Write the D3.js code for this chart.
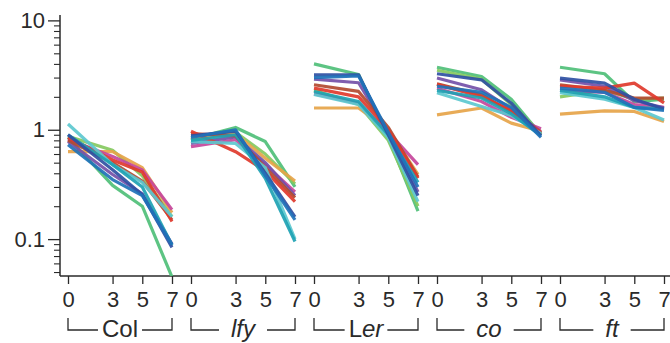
<!DOCTYPE html>
<html>
<head>
<meta charset="utf-8">
<script src="https://cdn.jsdelivr.net/npm/d3@7"></script>
<style>
  html, body { margin: 0; padding: 0; background: #fff; }
  svg { display: block; font-family: "Liberation Sans", Arial, Helvetica, sans-serif; }
</style>
</head>
<body>
<svg id="chart" width="670" height="343"></svg>
<script>
// Sampled days after transfer
const days = [0, 3, 5, 7];

// Genotype panels (label parts: [text, italic])
const genotypes = ["Col", "lfy", "Ler", "co", "ft"];
const genotypeLabels = [
  [["Col", false]],
  [["lfy", true]],
  [["L", false], ["er", true]],
  [["co", true]],
  [["ft", true]]
];

// Series (one per gene), drawing order bottom -> top
const seriesNames = ["s1", "s2", "s3", "s4", "s5", "s6", "s7", "s8", "s9", "s10", "s11"];
const seriesColors = ["#4fbf78", "#86c95f", "#e6a449", "#c6469c", "#7450a8", "#b24a30",
                      "#e03a2c", "#5cc8cf", "#1ea2b3", "#2f50a3", "#1f72b8"];

// Relative expression per genotype, per series: values at days 0, 3, 5, 7
const colValues = [
  [0.85, 0.31, 0.20, 0.045],
  [0.87, 0.65, 0.38, 0.16],
  [0.63, 0.63, 0.45, 0.175],
  [0.82, 0.57, 0.43, 0.186],
  [0.78, 0.39, 0.26, 0.09],
  [0.80, 0.50, 0.34, 0.15],
  [0.85, 0.53, 0.41, 0.145],
  [1.13, 0.48, 0.33, 0.16],
  [0.90, 0.48, 0.30, 0.088],
  [0.90, 0.43, 0.255, 0.084],
  [0.73, 0.35, 0.25, 0.089]
];
const lfyValues = [
  [0.82, 1.05, 0.78, 0.30],
  [0.80, 0.95, 0.60, 0.32],
  [0.85, 0.92, 0.55, 0.34],
  [0.70, 0.81, 0.48, 0.27],
  [0.75, 0.86, 0.50, 0.25],
  [0.92, 0.88, 0.45, 0.24],
  [0.97, 0.63, 0.42, 0.22],
  [0.78, 0.75, 0.45, 0.10],
  [0.80, 0.90, 0.36, 0.095],
  [0.88, 0.97, 0.40, 0.16],
  [0.85, 1.00, 0.38, 0.15]
];
const lerValues = [
  [4.00, 3.20, 0.85, 0.18],
  [2.30, 1.70, 0.80, 0.20],
  [1.58, 1.58, 1.00, 0.39],
  [2.13, 1.75, 0.95, 0.48],
  [2.90, 2.69, 0.95, 0.27],
  [2.58, 2.24, 1.05, 0.37],
  [2.40, 2.00, 1.00, 0.36],
  [2.10, 1.70, 0.85, 0.22],
  [2.24, 1.81, 0.90, 0.33],
  [3.18, 3.18, 0.90, 0.25],
  [3.00, 3.10, 0.95, 0.30]
];
const coValues = [
  [3.73, 3.07, 1.90, 0.90],
  [3.50, 2.90, 1.70, 0.93],
  [1.37, 1.58, 1.15, 0.97],
  [2.40, 1.81, 1.30, 1.02],
  [2.97, 2.32, 1.55, 0.95],
  [2.63, 2.09, 1.45, 0.92],
  [2.60, 2.00, 1.50, 0.95],
  [2.18, 1.63, 1.35, 0.92],
  [2.29, 1.95, 1.40, 0.88],
  [3.25, 2.86, 1.75, 0.88],
  [2.50, 2.20, 1.60, 0.85]
];
const ftValues = [
  [3.73, 3.25, 1.80, 1.90],
  [2.00, 2.30, 1.90, 1.95],
  [1.39, 1.49, 1.47, 1.19],
  [2.30, 2.20, 1.70, 1.60],
  [2.85, 2.50, 1.85, 1.59],
  [2.58, 2.30, 1.95, 1.95],
  [2.50, 2.40, 2.67, 1.76],
  [2.18, 1.90, 1.60, 1.23],
  [2.29, 2.00, 1.60, 1.55],
  [2.97, 2.67, 1.90, 1.55],
  [2.40, 2.20, 1.60, 1.50]
];
const panelValues = [colValues, lfyValues, lerValues, coValues, ftValues];

// Y-axis tick labels
const yTickValues = [0.1, 1, 10];
const yTickLabels = ["0.1", "1", "10"];

// ---- layout ----
const svg = d3.select("#chart");
const axisX = 60, axisTop = 15, axisBottom = 276, axisRight = 670;
const panelStart = 68, panelWidth = 104, panelStep = 123;
const ink = "#2a2a2a";

const y = d3.scaleLog().domain([0.046, 11.2]).range([axisBottom, axisTop]);
const xScales = genotypes.map((g, i) =>
  d3.scaleLinear().domain([0, 7]).range([panelStart + i * panelStep, panelStart + i * panelStep + panelWidth]));

// Y axis: major and minor ticks pointing left
const minorTicks = y.ticks().filter(v => !yTickValues.includes(v));
const yAxisMajor = d3.axisLeft(y).tickValues(yTickValues).tickFormat((d, i) => yTickLabels[i])
  .tickSizeInner(12).tickSizeOuter(0).tickPadding(3);
const gy = svg.append("g").attr("transform", `translate(${axisX},0)`).call(yAxisMajor);
gy.select(".domain").remove();
gy.selectAll("line").attr("stroke", ink).attr("stroke-width", 1.3);
gy.selectAll("text").attr("fill", ink).style("font-size", "22px");

const gyMinor = svg.append("g").attr("transform", `translate(${axisX},0)`)
  .call(d3.axisLeft(y).tickValues(minorTicks).tickFormat("").tickSizeInner(6).tickSizeOuter(0));
gyMinor.select(".domain").remove();
gyMinor.selectAll("line").attr("stroke", ink).attr("stroke-width", 1.1);

svg.append("line").attr("x1", axisX).attr("x2", axisX).attr("y1", axisTop).attr("y2", axisBottom)
  .attr("stroke", ink).attr("stroke-width", 1.5);
svg.append("line").attr("x1", axisX).attr("x2", axisRight).attr("y1", axisBottom).attr("y2", axisBottom)
  .attr("stroke", ink).attr("stroke-width", 1.5);

// X axes, one per genotype panel
xScales.forEach(x => {
  const gx = svg.append("g").attr("transform", `translate(0,${axisBottom})`)
    .call(d3.axisBottom(x).tickValues(days).tickFormat(d3.format("d"))
      .tickSizeInner(8).tickSizeOuter(0).tickPadding(7));
  gx.select(".domain").remove();
  gx.selectAll("line").attr("stroke", ink).attr("stroke-width", 1.3);
  gx.selectAll("text").attr("fill", ink).style("font-size", "22px");
});

// Expression lines
const clipId = "plot-clip";
svg.append("clipPath").attr("id", clipId).append("rect")
  .attr("x", axisX).attr("y", axisTop - 5).attr("width", axisRight - axisX).attr("height", axisBottom - axisTop + 5);

const plot = svg.append("g").attr("clip-path", `url(#${clipId})`);
seriesNames.forEach((name, s) => {
  panelValues.forEach((vals, p) => {
    const x = xScales[p];
    const line = d3.line().x((d, i) => x(days[i])).y(d => y(d));
    plot.append("path")
      .datum(vals[s])
      .attr("d", line)
      .attr("fill", "none")
      .attr("stroke", seriesColors[s])
      .attr("stroke-width", 3.2)
      .attr("stroke-linejoin", "round")
      .attr("stroke-opacity", 0.92);
  });
});

// Genotype brackets with labels
const bracketTop = 318, bracketBottom = 330, labelBaseline = 337;
genotypes.forEach((g, i) => {
  const x = xScales[i];
  const x0 = x(0), x1 = x(7), cx = (x0 + x1) / 2;
  const italic = genotypeLabels[i][0][1];
  const t = svg.append("text").attr("x", cx).attr("y", labelBaseline)
    .attr("text-anchor", "middle").attr("fill", ink).style("font-size", "24px");
  genotypeLabels[i].forEach(([txt, it]) => {
    t.append("tspan").text(txt).style("font-style", it ? "italic" : "normal");
  });
  const w = t.node().getComputedTextLength();
  const gap = italic ? 12 : 4;
  const left = cx - w / 2 - gap, right = cx + w / 2 + gap;
  const path = d3.path();
  path.moveTo(x0, bracketTop); path.lineTo(x0, bracketBottom); path.lineTo(left, bracketBottom);
  path.moveTo(right, bracketBottom); path.lineTo(x1, bracketBottom); path.lineTo(x1, bracketTop);
  svg.append("path").attr("d", path.toString()).attr("fill", "none")
    .attr("stroke", ink).attr("stroke-width", 1.3);
});
</script>
</body>
</html>
